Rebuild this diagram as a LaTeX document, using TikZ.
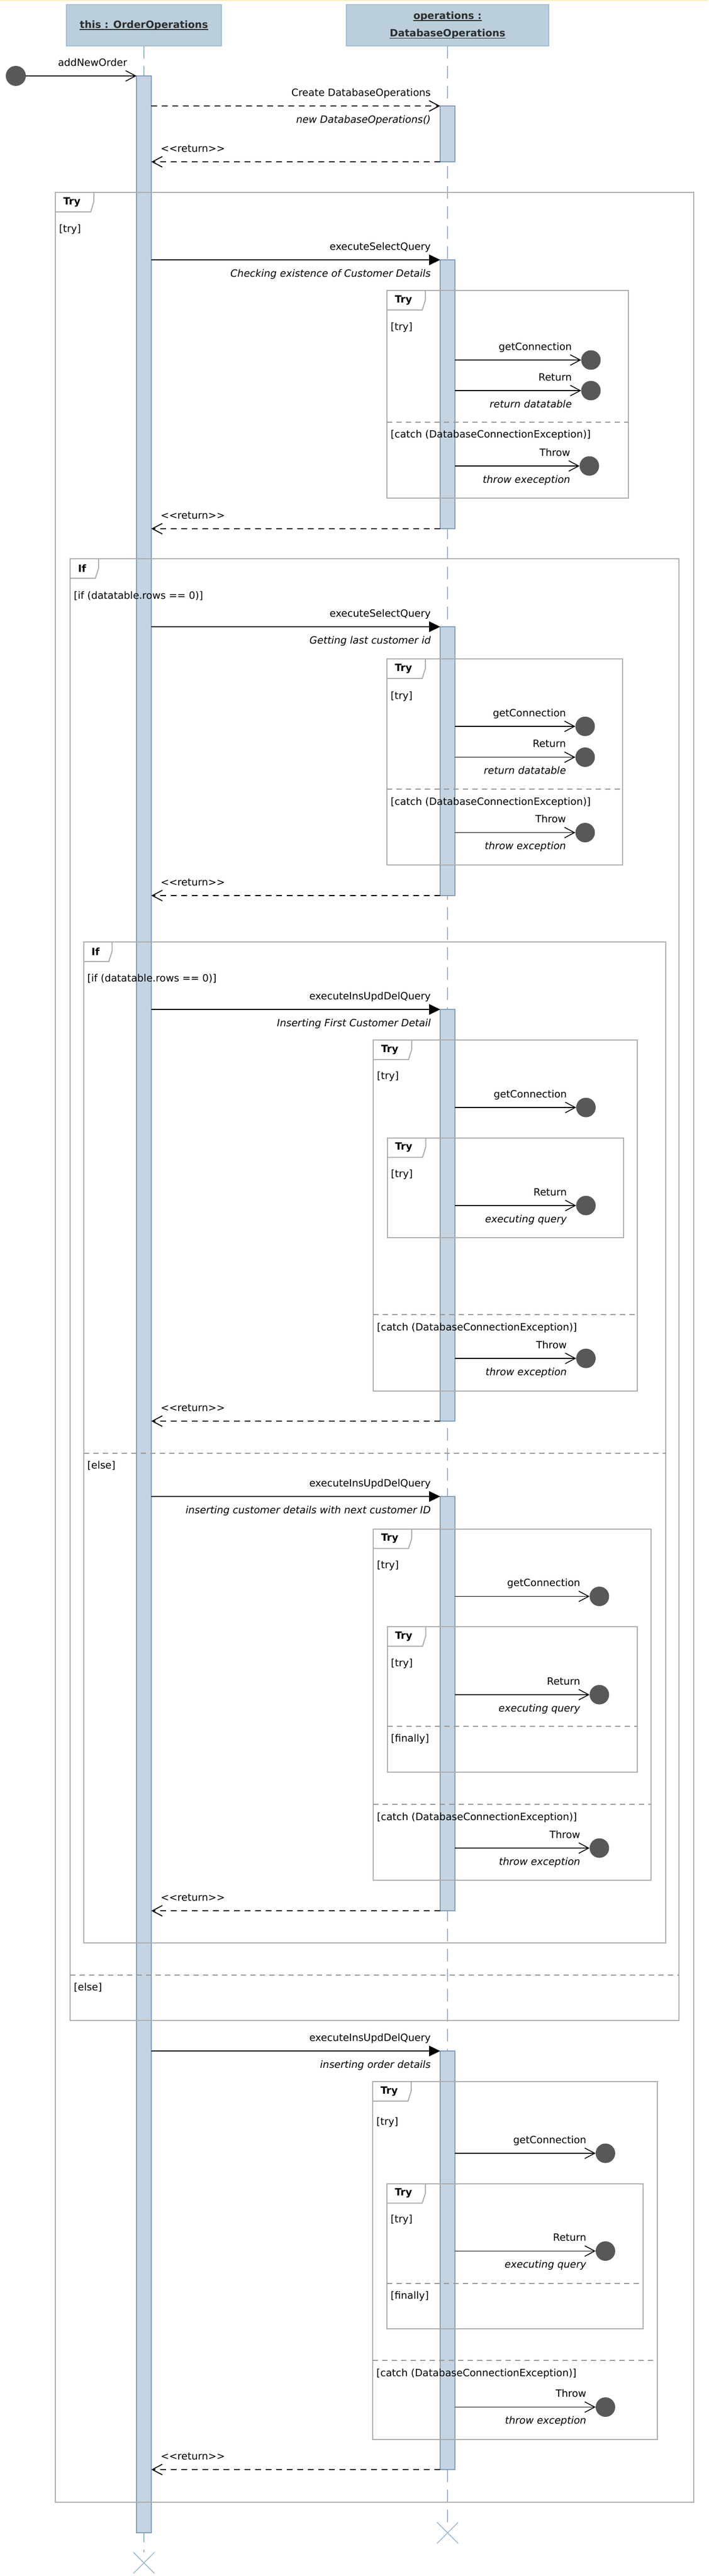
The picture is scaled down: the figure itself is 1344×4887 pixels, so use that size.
\documentclass[tikz,border=0pt]{standalone}
\usepackage{fontspec}
\setmainfont{DejaVu Sans}[Scale=1.9, BoldFont={DejaVu Sans Bold}, ItalicFont={DejaVu Sans Oblique}]
\usepackage{tikz}
\usetikzlibrary{positioning}
\usetikzlibrary{arrows.meta}
\usetikzlibrary{shapes.misc}
\definecolor{bandYellow}{RGB}{255,238,192}
\definecolor{headFill}{RGB}{187,206,220}
\definecolor{headLine}{RGB}{165,189,208}
\definecolor{headText}{RGB}{45,45,45}
\definecolor{lifeBlue}{RGB}{150,181,205}
\definecolor{barFill}{RGB}{196,212,225}
\definecolor{barLine}{RGB}{128,158,188}
\definecolor{fragGray}{RGB}{172,172,172}
\definecolor{sepGray}{RGB}{150,150,150}
\definecolor{dotGray}{RGB}{88,88,88}
\newsavebox{\hdrbox}
\newcommand{\hdrline}[1]{\sbox{\hdrbox}{#1}\rlap{\rule[-3.5pt]{\wd\hdrbox}{1.6pt}}\usebox{\hdrbox}}
\newcommand{\rettext}{<\kern0pt<return>\kern0pt>}
\tikzstyle{header} = [rectangle, draw=headLine, line width=1.5pt, fill=headFill, text=headText, font=\bfseries, align=center, inner sep=0pt, outer sep=0pt, minimum height=78pt]
\tikzstyle{lifeline} = [draw=lifeBlue, line width=2pt, dash pattern=on 24pt off 14pt]
\tikzstyle{actbar} = [rectangle, draw=barLine, line width=1.5pt, fill=barFill, minimum width=28pt, anchor=north, inner sep=0pt, outer sep=0pt]
\tikzstyle{destroy} = [cross out, draw=lifeBlue, line width=1.5pt, minimum size=40pt, inner sep=0pt, outer sep=0pt]
\tikzstyle{endpoint} = [circle, fill=dotGray, minimum size=37pt, inner sep=0pt, outer sep=0pt]
\tikzstyle{fragment} = [rectangle, draw=fragGray, line width=2pt, anchor=north west, inner sep=0pt, outer sep=0pt]
\tikzstyle{tab} = [anchor=north west, font=\bfseries, align=left, inner xsep=15pt, inner ysep=0pt, minimum height=37pt, outer sep=0pt, append after command={\pgfextra{\draw[fragGray, line width=2pt] (\tikzlastnode.north east) -- ([yshift=19pt]\tikzlastnode.south east) -- ([xshift=-6pt]\tikzlastnode.south east) -- (\tikzlastnode.south west);}}]
\tikzstyle{guard} = [anchor=base west, xshift=7pt, inner sep=0pt]
\tikzstyle{opsep} = [draw=sepGray, line width=2pt, dash pattern=on 10pt off 8pt]
\tikzstyle{call} = [-{Triangle[length=21pt,width=20pt]}, line width=1.8pt]
\tikzstyle{reply} = [-{Straight Barb[length=19pt,width=20pt]}, line width=1.8pt, dash pattern=on 11pt off 9pt]
\tikzstyle{found} = [-{Straight Barb[length=19pt,width=20pt]}, line width=1.6pt]
\tikzstyle{msg} = [pos=1, anchor=base east, xshift=-17pt, yshift=19pt, inner sep=0pt]
\tikzstyle{note} = [pos=1, anchor=base east, xshift=-17pt, yshift=-32pt, inner sep=0pt, font=\itshape]
\tikzstyle{retlbl} = [pos=1, anchor=base west, xshift=17pt, yshift=19pt, inner sep=0pt]

\begin{document}
\begin{tikzpicture}[x=1pt, y=-1pt]
    \useasboundingbox (0,0) rectangle (1344,4887);
    \fill[bandYellow] (0,0) rectangle (1344,2.5);

    \node (hdrOrder) [header, minimum width=294pt] at (273,48) {\hdrline{this : OrderOperations}};
    \node (hdrDb) [header, minimum width=384pt, right=237pt of hdrOrder] {\hdrline{operations :}\\[14pt]\hdrline{DatabaseOperations}};
    \node (endOrder) [destroy] at (273,4862) {};
    \node (endDb) [destroy] at (849,4805) {};
    \draw[lifeline] (hdrOrder) -- (endOrder);
    \draw[lifeline] (hdrDb) -- (endDb);

    \node (orderAct) [actbar, minimum height=4661pt, below=57pt of hdrOrder] {};
    \node (dbAct1) [actbar, minimum height=106pt] at (849,201) {};
    \node (dbAct2) [actbar, minimum height=510pt] at (849,493) {};
    \node (dbAct3) [actbar, minimum height=510pt] at (849,1189) {};
    \node (dbAct4) [actbar, minimum height=781pt] at (849,1915) {};
    \node (dbAct5) [actbar, minimum height=786pt] at (849,2839) {};
    \node (dbAct6) [actbar, minimum height=794pt] at (849,3891) {};

    \node (tryMain) [fragment, minimum width=1211pt, minimum height=4382pt] at (105,365) {};
    \node (tryMainTab) [tab, text width=43pt] at (tryMain.north west) {Try};
    \node (tryMainGuard) [guard] at (tryMain.west |- 0,440) {[try]};

    \node (tryCheck) [fragment, minimum width=458pt, minimum height=394pt] at (734,551) {};
    \node (tryCheckTab) [tab, text width=43pt] at (tryCheck.north west) {Try};
    \node (tryCheckGuard) [guard] at (tryCheck.west |- 0,626) {[try]};
    \draw[opsep] (tryCheck.west |- 0,801) -- (tryCheck.east |- 0,801);
    \node (tryCheckCatch) [guard] at (tryCheck.west |- 0,830) {[catch (DatabaseConnectionException)]};

    \node (ifRows) [fragment, minimum width=1155pt, minimum height=2773pt] at (133,1060) {};
    \node (ifRowsTab) [tab, text width=24pt] at (ifRows.north west) {If};
    \node (ifRowsGuard) [guard] at (ifRows.west |- 0,1136) {[if (datatable.rows == 0)]};
    \draw[opsep] (ifRows.west |- 0,3747) -- (ifRows.east |- 0,3747);
    \node (ifRowsElse) [guard] at (ifRows.west |- 0,3776) {[else]};

    \node (tryLast) [fragment, minimum width=447pt, minimum height=391pt] at (734,1250) {};
    \node (tryLastTab) [tab, text width=43pt] at (tryLast.north west) {Try};
    \node (tryLastGuard) [guard] at (tryLast.west |- 0,1326) {[try]};
    \draw[opsep] (tryLast.west |- 0,1497) -- (tryLast.east |- 0,1497);
    \node (tryLastCatch) [guard] at (tryLast.west |- 0,1527) {[catch (DatabaseConnectionException)]};

    \node (ifFirst) [fragment, minimum width=1104pt, minimum height=1899pt] at (158.5,1787) {};
    \node (ifFirstTab) [tab, text width=24pt] at (ifFirst.north west) {If};
    \node (ifFirstGuard) [guard] at (ifFirst.west |- 0,1862) {[if (datatable.rows == 0)]};
    \draw[opsep] (ifFirst.west |- 0,2757) -- (ifFirst.east |- 0,2757);
    \node (ifFirstElse) [guard] at (ifFirst.west |- 0,2786) {[else]};

    \node (tryFirst) [fragment, minimum width=501pt, minimum height=665.5pt] at (708,1973) {};
    \node (tryFirstTab) [tab, text width=43pt] at (tryFirst.north west) {Try};
    \node (tryFirstGuard) [guard] at (tryFirst.west |- 0,2047) {[try]};
    \draw[opsep] (tryFirst.west |- 0,2494) -- (tryFirst.east |- 0,2494);
    \node (tryFirstCatch) [guard] at (tryFirst.west |- 0,2524) {[catch (DatabaseConnectionException)]};

    \node (tryFirstIn) [fragment, minimum width=448.5pt, minimum height=189.5pt] at (734.5,2158.5) {};
    \node (tryFirstInTab) [tab, text width=43pt] at (tryFirstIn.north west) {Try};
    \node (tryFirstInGuard) [guard] at (tryFirstIn.west |- 0,2233) {[try]};

    \node (tryNext) [fragment, minimum width=527pt, minimum height=666.5pt] at (708,2900.5) {};
    \node (tryNextTab) [tab, text width=43pt] at (tryNext.north west) {Try};
    \node (tryNextGuard) [guard] at (tryNext.west |- 0,2975) {[try]};
    \draw[opsep] (tryNext.west |- 0,3423) -- (tryNext.east |- 0,3423);
    \node (tryNextCatch) [guard] at (tryNext.west |- 0,3453) {[catch (DatabaseConnectionException)]};

    \node (tryNextIn) [fragment, minimum width=474.5pt, minimum height=276pt] at (734.5,3086) {};
    \node (tryNextInTab) [tab, text width=43pt] at (tryNextIn.north west) {Try};
    \node (tryNextInGuard) [guard] at (tryNextIn.west |- 0,3161) {[try]};
    \draw[opsep] (tryNextIn.west |- 0,3275) -- (tryNextIn.east |- 0,3275);
    \node (tryNextInFinally) [guard] at (tryNextIn.west |- 0,3304) {[finally]};

    \node (tryOrder) [fragment, minimum width=540pt, minimum height=679pt] at (707,3949) {};
    \node (tryOrderTab) [tab, text width=43pt] at (tryOrder.north west) {Try};
    \node (tryOrderGuard) [guard] at (tryOrder.west |- 0,4031) {[try]};
    \draw[opsep] (tryOrder.west |- 0,4478) -- (tryOrder.east |- 0,4478);
    \node (tryOrderCatch) [guard] at (tryOrder.west |- 0,4508) {[catch (DatabaseConnectionException)]};

    \node (tryOrderIn) [fragment, minimum width=485.5pt, minimum height=275.5pt] at (734,4142.5) {};
    \node (tryOrderInTab) [tab, text width=43pt] at (tryOrderIn.north west) {Try};
    \node (tryOrderInGuard) [guard] at (tryOrderIn.west |- 0,4216) {[try]};
    \draw[opsep] (tryOrderIn.west |- 0,4331.5) -- (tryOrderIn.east |- 0,4331.5);
    \node (tryOrderInFinally) [guard] at (tryOrderIn.west |- 0,4361) {[finally]};

    \node (start) [endpoint, minimum size=38pt] at (30,144) {};
    \node (lost2a) [endpoint] at (1121,683) {};
    \node (lost2b) [endpoint] at (1121,741) {};
    \node (lost2c) [endpoint] at (1118,884) {};
    \node (lost3a) [endpoint] at (1110,1378) {};
    \node (lost3b) [endpoint] at (1110,1436.5) {};
    \node (lost3c) [endpoint] at (1110,1579.5) {};
    \node (lost4a) [endpoint] at (1111.5,2101) {};
    \node (lost4b) [endpoint] at (1111.5,2287) {};
    \node (lost4c) [endpoint] at (1111.5,2577) {};
    \node (lost5a) [endpoint] at (1137,3028.5) {};
    \node (lost5b) [endpoint] at (1137,3215) {};
    \node (lost5c) [endpoint] at (1137,3506) {};
    \node (lost6a) [endpoint] at (1148.5,4085) {};
    \node (lost6b) [endpoint] at (1148.5,4270.5) {};
    \node (lost6c) [endpoint] at (1148.5,4566.5) {};

    \draw[found] (start) -- (orderAct.north west) node[msg] {addNewOrder};
    \draw[reply] (orderAct.east |- dbAct1.north) -- (dbAct1.north west) node[msg] {Create DatabaseOperations} node[note] {new DatabaseOperations()};
    \draw[reply] (dbAct1.south west) -- (orderAct.east |- dbAct1.south) node[retlbl] {\rettext};

    \draw[call] (orderAct.east |- dbAct2.north) -- (dbAct2.north west) node[msg] {executeSelectQuery} node[note] {Checking existence of Customer Details};
    \draw[found] (dbAct2.east |- lost2a) -- (lost2a) node[msg] {getConnection};
    \draw[found] (dbAct2.east |- lost2b) -- (lost2b) node[msg] {Return} node[note] {return datatable};
    \draw[found] (dbAct2.east |- lost2c) -- (lost2c) node[msg] {Throw} node[note] {throw exeception};
    \draw[reply] (dbAct2.south west) -- (orderAct.east |- dbAct2.south) node[retlbl] {\rettext};

    \draw[call] (orderAct.east |- dbAct3.north) -- (dbAct3.north west) node[msg] {executeSelectQuery} node[note] {Getting last customer id};
    \draw[found] (dbAct3.east |- lost3a) -- (lost3a) node[msg] {getConnection};
    \draw[found] (dbAct3.east |- lost3b) -- (lost3b) node[msg] {Return} node[note] {return datatable};
    \draw[found] (dbAct3.east |- lost3c) -- (lost3c) node[msg] {Throw} node[note] {throw exception};
    \draw[reply] (dbAct3.south west) -- (orderAct.east |- dbAct3.south) node[retlbl] {\rettext};

    \draw[call] (orderAct.east |- dbAct4.north) -- (dbAct4.north west) node[msg] {executeInsUpdDelQuery} node[note] {Inserting First Customer Detail};
    \draw[found] (dbAct4.east |- lost4a) -- (lost4a) node[msg] {getConnection};
    \draw[found] (dbAct4.east |- lost4b) -- (lost4b) node[msg] {Return} node[note] {executing query};
    \draw[found] (dbAct4.east |- lost4c) -- (lost4c) node[msg] {Throw} node[note] {throw exception};
    \draw[reply] (dbAct4.south west) -- (orderAct.east |- dbAct4.south) node[retlbl] {\rettext};

    \draw[call] (orderAct.east |- dbAct5.north) -- (dbAct5.north west) node[msg] {executeInsUpdDelQuery} node[note] {inserting customer details with next customer ID};
    \draw[found] (dbAct5.east |- lost5a) -- (lost5a) node[msg] {getConnection};
    \draw[found] (dbAct5.east |- lost5b) -- (lost5b) node[msg] {Return} node[note] {executing query};
    \draw[found] (dbAct5.east |- lost5c) -- (lost5c) node[msg] {Throw} node[note] {throw exception};
    \draw[reply] (dbAct5.south west) -- (orderAct.east |- dbAct5.south) node[retlbl] {\rettext};

    \draw[call] (orderAct.east |- dbAct6.north) -- (dbAct6.north west) node[msg] {executeInsUpdDelQuery} node[note] {inserting order details};
    \draw[found] (dbAct6.east |- lost6a) -- (lost6a) node[msg] {getConnection};
    \draw[found] (dbAct6.east |- lost6b) -- (lost6b) node[msg] {Return} node[note] {executing query};
    \draw[found] (dbAct6.east |- lost6c) -- (lost6c) node[msg] {Throw} node[note] {throw exception};
    \draw[reply] (dbAct6.south west) -- (orderAct.east |- dbAct6.south) node[retlbl] {\rettext};
\end{tikzpicture}
\end{document}
